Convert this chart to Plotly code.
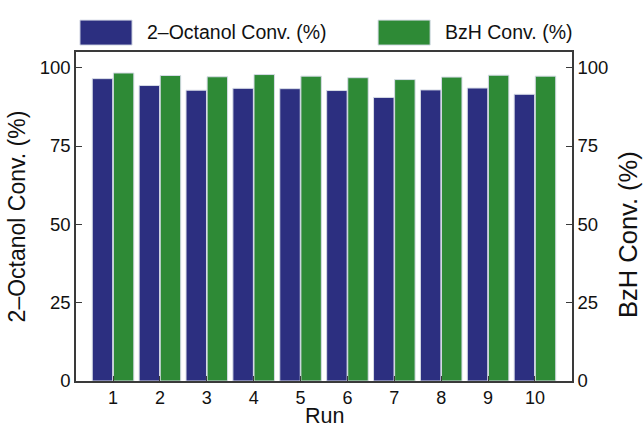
import plotly.graph_objects as go

runs = [1, 2, 3, 4, 5, 6, 7, 8, 9, 10]
octanol_conv = [96.5, 94.3, 92.8, 93.4, 93.3, 92.7, 90.5, 92.9, 93.5, 91.5]
bzh_conv = [98.3, 97.5, 97.1, 97.8, 97.3, 96.8, 96.2, 97.0, 97.6, 97.3]
y_ticks = [0, 25, 50, 75, 100]

blue = "#2c2f80"
green = "#2e8a36"
edge = "#d6dbe6"
axis_col = "#3a3a3a"
font_family = "Liberation Sans, Arial, sans-serif"

fig = go.Figure()
fig.add_trace(go.Bar(x=runs, y=octanol_conv, name="2\u2013Octanol Conv. (%)",
                     marker=dict(color=blue, line=dict(color=edge, width=1)),
                     offsetgroup="a", yaxis="y", showlegend=False))
fig.add_trace(go.Bar(x=runs, y=bzh_conv, name="BzH Conv. (%)",
                     marker=dict(color=green, line=dict(color=edge, width=1)),
                     offsetgroup="b", yaxis="y2", showlegend=False))

axis_common = dict(range=[0, 105], tickvals=y_ticks, ticks="inside", ticklen=6,
                   tickcolor=axis_col, showline=True, linecolor=axis_col, linewidth=1.5,
                   showgrid=False, zeroline=False, automargin=False,
                   tickfont=dict(size=18.5, color="#111"))

fig.update_layout(
    width=644, height=429,
    margin=dict(l=76, r=72, t=52, b=48),
    paper_bgcolor="white", plot_bgcolor="white",
    font=dict(family=font_family, color="#111"),
    barmode="group", bargap=0.1, bargroupgap=0.03,
    xaxis=dict(range=[0.21, 10.79], tickvals=runs, ticks="inside", ticklen=5,
               tickcolor=axis_col, showline=True, linecolor=axis_col, linewidth=1.5,
               mirror=True, showgrid=False, zeroline=False, automargin=False,
               tickfont=dict(size=18, color="#111")),
    yaxis=dict(**axis_common, side="left",
               title=dict(text="2\u2013Octanol Conv. (%)", font=dict(size=23), standoff=8)),
    yaxis2=dict(**axis_common, side="right", overlaying="y"),
    showlegend=False,
)

# X axis title
fig.add_annotation(text="Run", xref="paper", yref="paper",
                   x=0.5, y=-0.106, xanchor="center", yanchor="middle",
                   showarrow=False, font=dict(size=21.5, color="#111"))

# Right axis title placed as rotated text (slightly below axis centre, as in reference)
fig.add_annotation(text="BzH Conv. (%)", xref="paper", yref="paper",
                   x=1.113, y=0.444, textangle=-90, xanchor="center", yanchor="middle",
                   showarrow=False, font=dict(size=25.5, color="#111"))

# Custom legend (large swatches) in paper coordinates
legend_items = [("2\u2013Octanol Conv. (%)", blue, 0.008), ("BzH Conv. (%)", green, 0.609)]
for label, col, x0 in legend_items:
    fig.add_shape(type="rect", xref="paper", yref="paper",
                  x0=x0, x1=x0 + 0.105, y0=1.021, y1=1.097,
                  fillcolor=col, line=dict(color=edge, width=1))
    fig.add_annotation(text=label, xref="paper", yref="paper",
                       x=x0 + 0.131, y=1.061, xanchor="left", yanchor="middle",
                       showarrow=False, font=dict(size=19.5, color="#111"))

fig.write_html("out.html", config={"displayModeBar": False},
               post_script="document.body.style.margin='0';document.body.style.overflow='hidden';")
